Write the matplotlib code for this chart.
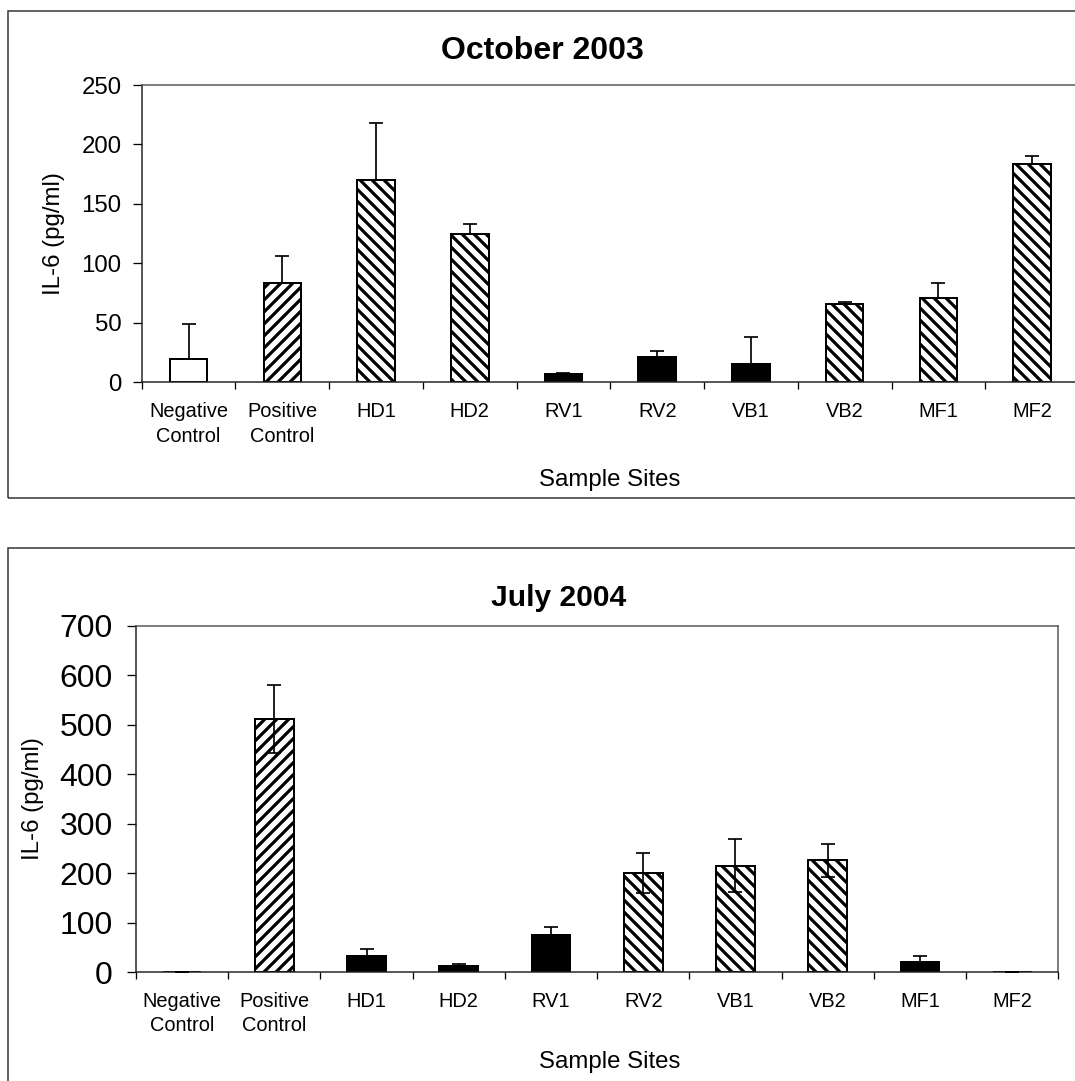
import numpy as np
import matplotlib
matplotlib.use('Agg')
import matplotlib.pyplot as plt
from matplotlib.patches import Rectangle

plt.rcParams['font.family'] = ['Liberation Sans', 'DejaVu Sans']
plt.rcParams['hatch.linewidth'] = 3.2

sites = ['Negative\nControl', 'Positive\nControl', 'HD1', 'HD2', 'RV1',
         'RV2', 'VB1', 'VB2', 'MF1', 'MF2']

# October 2003
oct_vals = [19.6, 83.6, 170.3, 124.3, 7.0, 21.6, 15.2, 65.9, 70.7, 183.5]
oct_err = [29.8, 22.7, 47.4, 8.4, 0.5, 4.8, 22.7, 1.4, 12.9, 6.7]
oct_fill = ['white', '//', '\\\\', '\\\\', 'black', 'black', 'black', '\\\\', '\\\\', '\\\\']

# July 2004
jul_vals = [0, 511, 32, 12, 75, 200, 215, 226, 20, 0]
jul_err = [1, 69, 14, 4, 15, 41, 53, 33, 12, 1]
jul_fill = ['white', '//', 'black', 'black', 'black', '\\\\', '\\\\', '\\\\', 'black', '\\\\']

W, H = 1075, 1081
fig = plt.figure(figsize=(W / 72, H / 72), dpi=72)


def px_axes(left, top, right, bottom):
    return fig.add_axes([left / W, 1 - bottom / H, (right - left) / W, (bottom - top) / H])


def draw_panel(ax, vals, err, fills, width, plus_only, ymax, ystep, ytick_size, ypad):
    x = np.arange(len(sites))
    for xi, v, f in zip(x, vals, fills):
        if f in ('white', 'black'):
            ax.bar(xi, v, width, color=f, edgecolor='black', linewidth=2, zorder=2)
        else:
            ax.bar(xi, v, width, color='white', edgecolor='black', hatch=f,
                   linewidth=2, zorder=2)
    if plus_only:
        yerr = [np.zeros(len(err)), err]
    else:
        yerr = err
    ax.errorbar(x, vals, yerr=yerr, fmt='none', ecolor='black', elinewidth=1.7,
                capsize=7, capthick=1.7, zorder=3)
    ax.set_xlim(-0.5, len(sites) - 0.5)
    ax.set_ylim(0, ymax)
    ax.set_yticks(np.arange(0, ymax + 1, ystep))
    ax.set_xticks(x)
    ax.set_xticklabels(sites, fontsize=20, linespacing=1.35)
    ax.set_xticks(np.arange(-0.5, len(sites)), minor=True)
    ax.tick_params(axis='x', which='major', length=0, pad=20)
    ax.tick_params(axis='x', which='minor', length=7, width=1.3, direction='out')
    ax.tick_params(axis='y', length=9, width=1.3, direction='out',
                   labelsize=ytick_size, pad=ypad)
    ax.set_xlabel('Sample Sites', fontsize=24)
    ax.set_ylabel('IL-6 (pg/ml)', fontsize=24)
    for s in ('left', 'bottom'):
        ax.spines[s].set_linewidth(1.5)
        ax.spines[s].set_color('#222222')
    for s in ('top', 'right'):
        ax.spines[s].set_linewidth(1.5)
        ax.spines[s].set_color('#555555')


# outer chart boxes
fig.patches.append(Rectangle((8 / W, 1 - 498 / H), 1200 / W, 487 / H, transform=fig.transFigure,
                             fill=False, edgecolor='#333333', linewidth=1.5))
fig.patches.append(Rectangle((8 / W, -0.1), 1200 / W, 1 - 548 / H + 0.1, transform=fig.transFigure,
                             fill=False, edgecolor='#333333', linewidth=1.5))

t_left, t_top, t_right, t_bot = 141.7, 85, 1079, 382.3
ax1 = px_axes(t_left, t_top, t_right, t_bot)
draw_panel(ax1, oct_vals, oct_err, oct_fill, 0.4, True, 250, 50, 24, 11)
ax1.yaxis.set_label_coords(-(t_left - 65) / (t_right - t_left), 0.5)
ax1.xaxis.set_label_coords((610 - t_left) / (t_right - t_left), -(469 - t_bot) / (t_bot - t_top))
fig.text(542 / W, 1 - 51 / H, 'October 2003', ha='center', va='center',
         fontsize=32, fontweight='bold')

b_left, b_top, b_right, b_bot = 136, 625.7, 1058.3, 972
ax2 = px_axes(b_left, b_top, b_right, b_bot)
draw_panel(ax2, jul_vals, jul_err, jul_fill, 0.42, False, 700, 100, 32, 14)
ax2.yaxis.set_label_coords(-(b_left - 44) / (b_right - b_left), 0.5)
ax2.xaxis.set_label_coords((610 - b_left) / (b_right - b_left), -(1051 - b_bot) / (b_bot - b_top))
fig.text(559 / W, 1 - 598 / H, 'July 2004', ha='center', va='center',
         fontsize=30, fontweight='bold')

fig.savefig('out.png', dpi=72)
